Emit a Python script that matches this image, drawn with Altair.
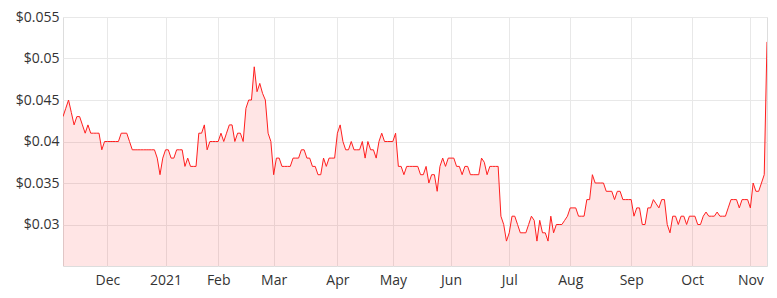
import altair as alt
import pandas as pd

# ASX trading days, 9 Nov 2020 – 9 Nov 2021
start_date = "2020-11-09"
end_date = "2021-11-09"
holidays = ["2020-12-25", "2020-12-28", "2021-01-01", "2021-01-26",
            "2021-04-02", "2021-04-05", "2021-06-14"]

prices = [
    0.043, 0.044, 0.045, 0.0435, 0.042, 0.043, 0.043, 0.042, 0.041, 0.042,
    0.041, 0.041, 0.041, 0.041, 0.039, 0.040, 0.040, 0.040, 0.040, 0.040,
    0.040, 0.041, 0.041, 0.041, 0.040, 0.039, 0.039, 0.039, 0.039, 0.039,
    0.039, 0.039, 0.039, 0.039, 0.038, 0.036, 0.038, 0.039, 0.039, 0.038,
    0.038, 0.039, 0.039, 0.039, 0.037, 0.038, 0.037, 0.037, 0.037, 0.041,
    0.041, 0.042, 0.039, 0.040, 0.040, 0.040, 0.040, 0.041, 0.040, 0.041,
    0.042, 0.042, 0.040, 0.041, 0.041, 0.040, 0.044, 0.045, 0.045, 0.049,
    0.046, 0.047, 0.0458, 0.045, 0.041, 0.040, 0.036, 0.038, 0.038, 0.037,
    0.037, 0.037, 0.037, 0.038, 0.038, 0.038, 0.039, 0.039, 0.038, 0.038,
    0.037, 0.037, 0.036, 0.036, 0.038, 0.037, 0.038, 0.038, 0.038, 0.041,
    0.042, 0.040, 0.039, 0.039, 0.040, 0.039, 0.039, 0.039, 0.040, 0.038,
    0.040, 0.039, 0.039, 0.038, 0.040, 0.041, 0.040, 0.040, 0.040, 0.040,
    0.041, 0.037, 0.037, 0.036, 0.037, 0.037, 0.037, 0.037, 0.037, 0.036,
    0.036, 0.037, 0.035, 0.036, 0.036, 0.034, 0.037, 0.038, 0.037, 0.038,
    0.038, 0.038, 0.037, 0.037, 0.036, 0.037, 0.037, 0.036, 0.036, 0.036,
    0.036, 0.038, 0.0375, 0.036, 0.037, 0.037, 0.037, 0.037, 0.031, 0.030,
    0.028, 0.029, 0.031, 0.031, 0.030, 0.029, 0.029, 0.029, 0.030, 0.031,
    0.0305, 0.028, 0.0305, 0.029, 0.029, 0.028, 0.031, 0.029, 0.030, 0.030,
    0.030, 0.0305, 0.031, 0.032, 0.032, 0.032, 0.031, 0.031, 0.031, 0.033,
    0.033, 0.036, 0.035, 0.035, 0.035, 0.035, 0.034, 0.034, 0.034, 0.033,
    0.034, 0.034, 0.033, 0.033, 0.033, 0.033, 0.031, 0.032, 0.032, 0.030,
    0.030, 0.032, 0.032, 0.033, 0.0325, 0.032, 0.033, 0.033, 0.030, 0.029,
    0.031, 0.031, 0.030, 0.031, 0.031, 0.030, 0.031, 0.031, 0.031, 0.030,
    0.030, 0.031, 0.0315, 0.031, 0.031, 0.031, 0.0315, 0.031, 0.031, 0.031,
    0.032, 0.033, 0.033, 0.033, 0.032, 0.033, 0.033, 0.033, 0.032, 0.035,
    0.034, 0.034, 0.035, 0.036, 0.052,
]

y_ticks = [0.03, 0.035, 0.04, 0.045, 0.05, 0.055]
month_labels = ["Dec", "2021", "Feb", "Mar", "Apr", "May", "Jun",
                "Jul", "Aug", "Sep", "Oct", "Nov"]

dates = pd.bdate_range(start_date, end_date)
dates = dates[~dates.isin(pd.to_datetime(holidays))]
n = min(len(dates), len(prices))
df = pd.DataFrame({"i": list(range(n)), "date": dates[:n], "price": prices[:n]})

# first trading day of each month (Dec 2020 .. Nov 2021)
periods = df["date"].dt.to_period("M")
firsts = df.groupby(periods)["i"].min().tolist()[1:]
tick_idx = firsts[: len(month_labels)]
expr = "''"
for idx, lab in reversed(list(zip(tick_idx, month_labels))):
    expr = f"datum.value == {idx} ? '{lab}' : ({expr})"

FONT = "Open Sans"

x = alt.X("i:Q", scale=alt.Scale(domain=[0, n - 1], nice=False, zero=False),
          axis=alt.Axis(values=tick_idx, labelExpr=expr, title=None, ticks=False,
                        domain=False, grid=True, gridColor="#e8e8e8",
                        labelFont=FONT, labelFontSize=14, labelColor="#333333",
                        labelPadding=7))
y = alt.Y("price:Q", scale=alt.Scale(domain=[0.025, 0.055], nice=False, zero=False),
          axis=alt.Axis(values=y_ticks, format="$.3~f", title=None, ticks=False,
                        domain=False, grid=True, gridColor="#e8e8e8",
                        labelFont=FONT, labelFontSize=14, labelColor="#333333",
                        labelPadding=4))

base = alt.Chart(df)
area = base.mark_area(color="#ff0000", opacity=0.1, clip=True).encode(x=x, y=y)
line = base.mark_line(color="#ff1f1f", strokeWidth=1, clip=True).encode(x=x, y=y)

chart = (area + line).properties(
    width=704, height=249,
    autosize=alt.AutoSizeParams(type="none"),
    padding={"left": 63, "top": 17, "right": 10, "bottom": 32},
).configure_view(stroke="#e3e3e3").configure(background="white")

chart.save("out.html", embed_options={"renderer": "svg", "actions": False})
